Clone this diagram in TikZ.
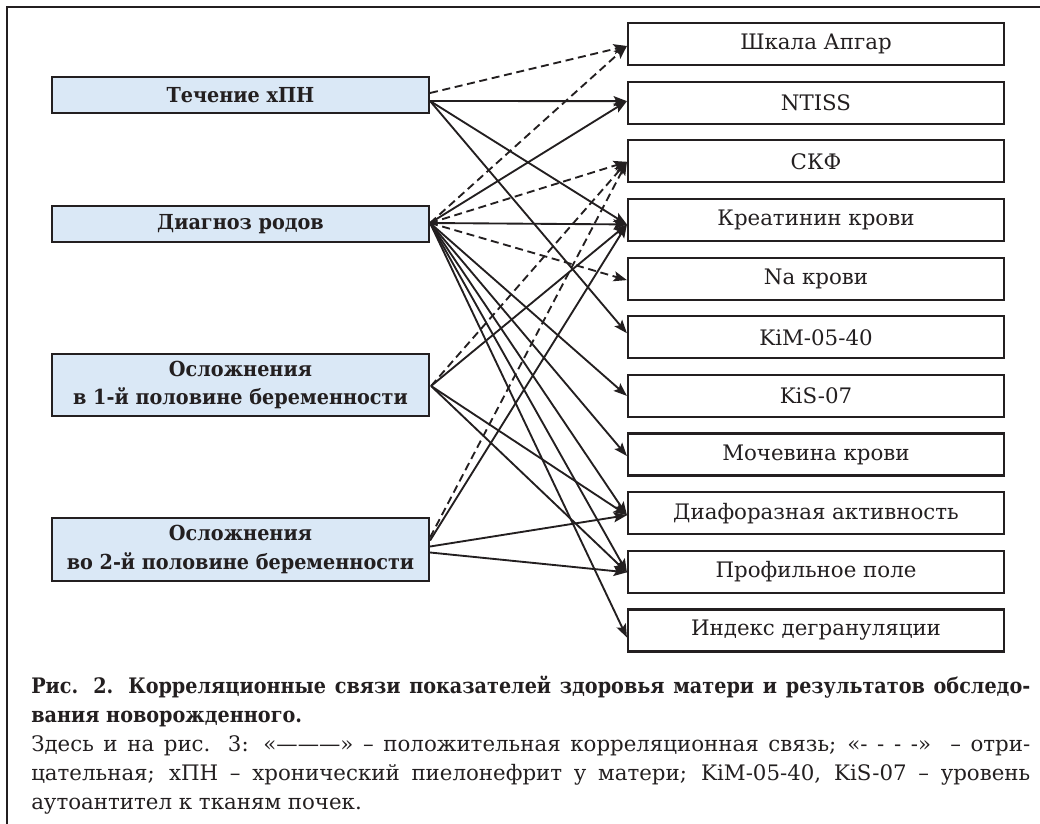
\documentclass[tikz,border=0pt]{standalone}
\usepackage{fontspec}
\setmainfont{DejaVu Serif}
\newfontfamily\srcfont[FakeStretch=0.93]{DejaVu Serif}
\newfontfamily\capbold[FakeStretch=0.9]{DejaVu Serif}
\usetikzlibrary{arrows.meta,calc}
\definecolor{ink}{HTML}{231F20}
\definecolor{lblue}{HTML}{DAE8F6}
\begin{document}
\begin{tikzpicture}[x=0.75pt,y=-0.75pt,
  src/.style={draw=ink,line width=1.6pt,fill=lblue,minimum width=282.75pt,inner sep=0pt,align=center,
    font=\srcfont\bfseries\fontsize{15.5}{21.5}\selectfont,text=ink},
  dst/.style={draw=ink,line width=1.6pt,fill=white,minimum width=282pt,minimum height=31.5pt,inner sep=0pt,
    font=\fontsize{16}{18}\selectfont,text=ink},
  poslink/.style={draw=ink,line width=1.4pt,-{Stealth[length=10pt,width=7.5pt,inset=2pt]}},
  neglink/.style={poslink,dash pattern=on 6pt off 3.5pt},
  captext/.style={anchor=base west,inner sep=0pt,text=ink,font=\fontsize{16}{18}\selectfont},
  capboldtext/.style={captext,font=\capbold\bfseries\fontsize{16}{18}\selectfont},
]
\useasboundingbox (0,0) rectangle (1040,824);
\draw[ink,line width=1.6pt] (7,824) -- (7,7) -- (1040,7);

% source boxes
\node[src,minimum height=27pt] (s1) at (240.5,95) {Течение хПН};
\node[src,minimum height=27pt] (s2) at (240.5,224) {Диагноз родов};
\node[src,minimum height=46.5pt] (s3) at (240.5,385) {Осложнения\\в 1-й половине беременности};
\node[src,minimum height=47pt] (s4) at (240.5,549.5) {Осложнения\\во 2-й половине беременности};

% target boxes
\node[dst] (d1) at (816,44) {Шкала Апгар};
\node[dst] (d2) at (816,102.65) {NTISS};
\node[dst] (d3) at (816,161.3) {СКФ};
\node[dst] (d4) at (816,219.95) {Креатинин крови};
\node[dst] (d5) at (816,278.6) {Na крови};
\node[dst] (d6) at (816,337.25) {KiM-05-40};
\node[dst] (d7) at (816,395.9) {KiS-07};
\node[dst] (d8) at (816,454.55) {Мочевина крови};
\node[dst] (d9) at (816,513.2) {Диафоразная активность};
\node[dst] (d10) at (816,571.85) {Профильное поле};
\node[dst] (d11) at (816,630.5) {Индекс дегрануляции};

% target points
\coordinate (t1) at ($(d1.west)+(0,2)$);
\coordinate (t2) at ($(d2.west)+(0,-1.5)$);
\coordinate (t3) at ($(d3.west)+(0,0.5)$);
\coordinate (t4) at ($(d4.west)+(0,4.5)$);
\coordinate (t5) at ($(d5.west)+(0,1.5)$);
\coordinate (t6) at ($(d6.west)+(0,-4)$);
\coordinate (t7) at ($(d7.west)+(0,0)$);
\coordinate (t8) at ($(d8.west)+(0,1.5)$);
\coordinate (t9) at ($(d9.west)+(0,2)$);
\coordinate (t10) at ($(d10.west)+(0,0.5)$);
\coordinate (t11) at ($(d11.west)+(0,7)$);

% source points
\coordinate (a1) at ($(s1.east)+(0,-2)$);
\coordinate (b1) at ($(s1.east)+(0,6)$);
\coordinate (a2) at ($(s2.east)+(0,-1)$);
\coordinate (a3) at ($(s3.east)+(1,1)$);
\coordinate (a4) at ($(s4.east)+(0,-12)$);
\coordinate (b4) at ($(s4.east)+(0,-9)$);
\coordinate (c4) at ($(s4.east)+(0,-3)$);
\coordinate (e4) at ($(s4.east)+(0,3)$);

% Течение хПН
\draw[neglink] (a1) -- (t1);
\draw[poslink] (b1) -- (t2);
\draw[poslink] (b1) -- (t4);
\draw[poslink] (b1) -- (t6);
% Диагноз родов
\draw[neglink] (a2) -- (t1);
\draw[poslink] (a2) -- (t2);
\draw[neglink] (a2) -- (t3);
\draw[poslink] (a2) -- (t4);
\draw[neglink] (a2) -- (t5);
\draw[poslink] (a2) -- (t7);
\draw[poslink] (a2) -- (t8);
\draw[poslink] (a2) -- (t9);
\draw[poslink] (a2) -- (t10);
\draw[poslink] (a2) -- (t11);
% Осложнения 1
\draw[neglink] (a3) -- (t3);
\draw[poslink] (a3) -- (t4);
\draw[poslink] (a3) -- (t9);
\draw[poslink] (a3) -- (t10);
% Осложнения 2
\draw[neglink] (a4) -- (t3);
\draw[poslink] (b4) -- (t4);
\draw[poslink] (c4) -- (t9);
\draw[poslink] (e4) -- (t10);

% caption
\node[capboldtext] (c1) at (31,693) {\makebox[749.25pt][s]{Рис. 2. Корреляционные связи показателей здоровья матери и результатов обследо-}};
\node[capboldtext] (c2) at (31,722) {вания новорожденного.};
\node[captext] (c3) at (31,751) {\makebox[749.25pt][s]{Здесь и на рис. 3: «———» – положительная корреляционная связь; «- - - -»\ \ – отри-}};
\node[captext] (c4) at (31,780) {\makebox[749.25pt][s]{цательная; хПН – хронический пиелонефрит у матери; KiM-05-40, KiS-07 – уровень}};
\node[captext] (c5) at (31,809) {аутоантител к тканям почек.};
\end{tikzpicture}
\end{document}
